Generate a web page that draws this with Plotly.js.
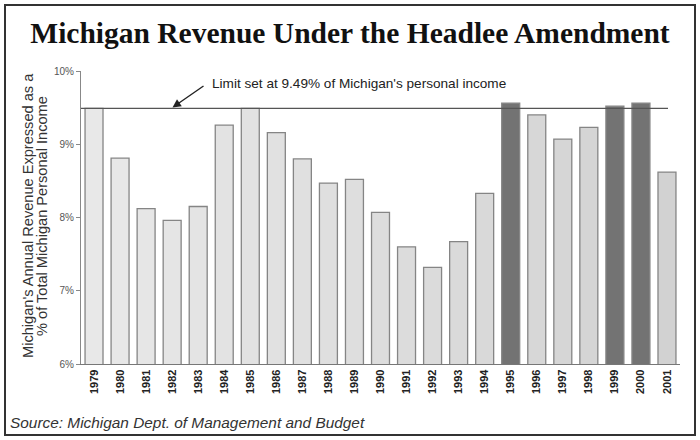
<!DOCTYPE html>
<html>
<head>
<meta charset="utf-8">
<script src="https://cdn.plot.ly/plotly-3.0.1.min.js"></script>
<style>html,body{margin:0;padding:0;background:#fff;}#chart{width:700px;height:440px;}</style>
</head>
<body>
<div id="chart"></div>
<script>
// Data
const years = ["1979","1980","1981","1982","1983","1984","1985","1986","1987","1988","1989","1990",
               "1991","1992","1993","1994","1995","1996","1997","1998","1999","2000","2001"];
const revenuePct = [9.49, 8.81, 8.12, 7.96, 8.15, 9.26, 9.49, 9.16, 8.80, 8.47, 8.52, 8.07,
                    7.60, 7.32, 7.67, 8.33, 9.56, 9.40, 9.07, 9.23, 9.52, 9.56, 8.62];
const limitPct = 9.49;
const yTicks = [6, 7, 8, 9, 10];

const n = years.length;
const colors = revenuePct.map((v, i) => {
  if (v > limitPct + 0.005) return '#737373';
  const g = Math.round(0xe8 - (0xe8 - 0xd2) * i / (n - 1));
  return 'rgb(' + g + ',' + g + ',' + g + ')';
});

const trace = {
  type: 'bar',
  x: years,
  y: revenuePct,
  marker: {color: colors, line: {color: '#858585', width: 1.3}},
  hoverinfo: 'x+y'
};

// frame pixel geometry -> paper coords
const L = 81, R = 20, T = 71, B = 76, W = 700, H = 440;
const pw = W - L - R, ph = H - T - B;
const px = x => (x - L) / pw;
const py = y => (H - B - y) / ph;

const layout = {
  width: W, height: H,
  margin: {l: L, r: R, t: T, b: B},
  paper_bgcolor: '#fff', plot_bgcolor: '#fff',
  showlegend: false,
  bargap: 0.31,
  title: {
    text: '<b>Michigan Revenue Under the Headlee Amendment</b>',
    font: {family: 'Liberation Serif, Times New Roman, serif', size: 29.5, color: '#111'},
    x: 0.5, xanchor: 'center', y: 1 - 33 / H, yanchor: 'middle'
  },
  xaxis: {
    type: 'category',
    range: [-0.5, n - 0.5],
    tickangle: -90,
    tickfont: {family: 'Liberation Sans, Arial, sans-serif', size: 11, color: '#222', weight: 'bold'},
    showline: true, linecolor: '#777', linewidth: 1.2,
    ticks: '', showgrid: false, zeroline: false,
    fixedrange: true
  },
  yaxis: {
    range: [6, 10],
    tickvals: yTicks,
    ticktext: yTicks.map(v => v + '%'),
    tickfont: {family: 'Liberation Sans, Arial, sans-serif', size: 10, color: '#555'},
    showline: true, linecolor: '#888', linewidth: 1,
    ticks: 'outside', ticklen: 4, tickcolor: '#888',
    showgrid: false, zeroline: false,
    fixedrange: true
  },
  shapes: [
    {type: 'line', xref: 'paper', yref: 'y', x0: 0, x1: px(668), y0: limitPct, y1: limitPct,
     line: {color: '#555', width: 1.3}},
    {type: 'rect', xref: 'paper', yref: 'paper', x0: px(5), x1: px(695), y0: py(435), y1: py(5),
     line: {color: '#333', width: 2}, layer: 'below'}
  ],
  annotations: [
    {xref: 'paper', yref: 'paper', x: px(172.5), y: py(107.5), ax: 205 - 172.5, ay: 85 - 107.5,
     axref: 'pixel', ayref: 'pixel', showarrow: true, arrowhead: 2, arrowsize: 1.2, arrowwidth: 1.4,
     arrowcolor: '#222', text: ''},
    {xref: 'paper', yref: 'paper', x: px(210), y: py(83), xanchor: 'left', yanchor: 'middle',
     showarrow: false, text: "Limit set at 9.49% of Michigan's personal income",
     font: {family: 'Liberation Sans, Arial, sans-serif', size: 13.6, color: '#222'}},
    {xref: 'paper', yref: 'paper', x: px(28), y: py(216), textangle: -90, showarrow: false,
     xanchor: 'center', yanchor: 'middle',
     text: "Michigan's Annual Revenue Expressed as a",
     font: {family: 'Liberation Sans, Arial, sans-serif', size: 14.6, color: '#333'}},
    {xref: 'paper', yref: 'paper', x: px(42), y: py(216), textangle: -90, showarrow: false,
     xanchor: 'center', yanchor: 'middle',
     text: "% of Total Michigan Personal Income",
     font: {family: 'Liberation Sans, Arial, sans-serif', size: 14.6, color: '#333'}},
    {xref: 'paper', yref: 'paper', x: px(8), y: py(422), xanchor: 'left', yanchor: 'middle',
     showarrow: false, text: '<i>Source: Michigan Dept. of Management and Budget</i>',
     font: {family: 'Liberation Sans, Arial, sans-serif', size: 15.4, color: '#333'}}
  ]
};

Plotly.newPlot('chart', [trace], layout, {displayModeBar: false, staticPlot: true});
</script>
</body>
</html>
